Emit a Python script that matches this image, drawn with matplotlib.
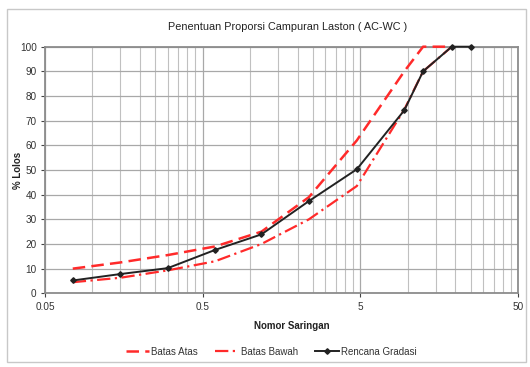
import matplotlib
matplotlib.use("Agg")
import matplotlib.pyplot as plt
from matplotlib.ticker import FixedLocator, NullFormatter
from matplotlib.patches import Rectangle

# ---- data ----
sieve_limits = [0.075, 0.15, 0.3, 0.6, 1.18, 2.36, 4.75, 9.5, 12.5, 19]
batas_atas = [10, 12.5, 15.5, 19, 25, 39, 62, 90, 100, 100]
batas_bawah = [4.5, 6.3, 9.3, 13, 20, 30, 43.5, 74.5, 90, 100]
sieve_plan = [0.075, 0.15, 0.3, 0.6, 1.18, 2.36, 4.75, 9.5, 12.5, 19, 25]
rencana = [5.2, 7.8, 10.2, 17.6, 23.9, 37.4, 50.3, 74.2, 90, 100, 100]
x_ticks = [0.05, 0.5, 5, 50]
x_tick_labels = ["0.05", "0.5", "5", "50"]
y_ticks = list(range(0, 101, 10))

FAM = ["Liberation Sans Narrow", "Liberation Sans", "DejaVu Sans"]
plt.rcParams["font.family"] = FAM

W, H = 530, 367
fig = plt.figure(figsize=(W / 100, H / 100), dpi=100)

# outer chart border
fig.patches.append(Rectangle((7 / W, 1 - 362 / H), (526 - 7) / W, (362 - 9) / H,
                             transform=fig.transFigure, fill=False,
                             edgecolor="#c8c8c8", linewidth=1.0))

L, R, T, B = 45, 518, 46.7, 293.3
ax = fig.add_axes([L / W, 1 - B / H, (R - L) / W, (B - T) / H])

ax.set_xscale("log")
ax.set_xlim(0.05, 50)
ax.set_ylim(0, 100)

minor = [0.05 * k * 10 ** d for d in range(3) for k in range(2, 10)]
ax.xaxis.set_major_locator(FixedLocator(x_ticks))
ax.xaxis.set_minor_locator(FixedLocator(minor))
ax.xaxis.set_minor_formatter(NullFormatter())
ax.set_xticks(x_ticks)
ax.set_xticklabels(x_tick_labels)
ax.set_yticks(y_ticks)

ax.grid(True, which="major", axis="both", color="#a8a8a8", linewidth=0.9)
ax.grid(True, which="minor", axis="x", color="#c0c0c0", linewidth=0.8)
ax.set_axisbelow(True)

for s in ax.spines.values():
    s.set_color("#8c8c8c")
    s.set_linewidth(1.3)

ax.tick_params(axis="both", which="major", labelsize=7.2, colors="#444444",
               length=3, width=0.8, pad=3, labelcolor="#333333")
ax.tick_params(axis="x", which="minor", length=0)

red = "#ff2a2a"
ax.plot(sieve_limits, batas_atas, color=red, lw=1.8, linestyle=(0, (5, 2.5)),
        label="Batas Atas", clip_on=False, zorder=3)
ax.plot(sieve_limits, batas_bawah, color=red, lw=1.6, linestyle=(0, (6, 2, 1, 2)),
        label="Batas Bawah", clip_on=False, zorder=3)
ax.plot(sieve_plan, rencana, color="#222222", lw=1.4, marker="D", markersize=2.8,
        label="Rencana Gradasi", clip_on=False, zorder=4)

fig.text(288 / W, 1 - 27 / H, "Penentuan Proporsi Campuran Laston ( AC-WC )",
         ha="center", va="center", fontsize=7.8, color="#222222")
fig.text(292 / W, 1 - 326 / H, "Nomor Saringan", ha="center", va="center",
         fontsize=7, fontweight="bold", color="#222222")
fig.text(18 / W, 1 - 170 / H, "% Lolos", ha="center", va="center", rotation=90,
         fontsize=7, fontweight="bold", color="#222222")

fig.legend(loc="center", bbox_to_anchor=(271 / W, 1 - 351.7 / H), ncol=3,
           frameon=False, fontsize=7, handlelength=2.4, handletextpad=0.2,
           columnspacing=1.8, labelcolor="#333333")

fig.savefig("out.png", dpi=100)
